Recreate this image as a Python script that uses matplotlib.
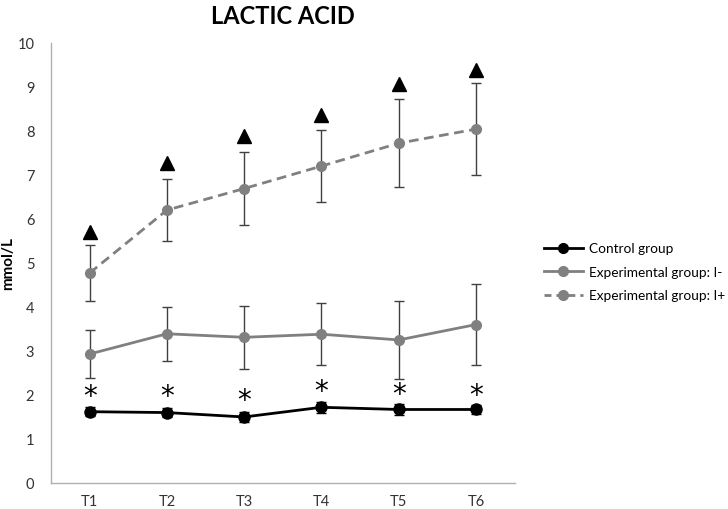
import matplotlib
matplotlib.use("Agg")
import matplotlib.pyplot as plt
from matplotlib.lines import Line2D

plt.rcParams['font.family'] = ['Lato', 'DejaVu Sans']

times = ["T1", "T2", "T3", "T4", "T5", "T6"]
control = [1.62, 1.60, 1.50, 1.72, 1.67, 1.67]
control_err = [0.10, 0.10, 0.12, 0.12, 0.12, 0.10]
exp_neg = [2.93, 3.39, 3.31, 3.38, 3.25, 3.60]
exp_neg_err = [0.54, 0.61, 0.72, 0.71, 0.88, 0.92]
exp_pos = [4.77, 6.20, 6.69, 7.20, 7.72, 8.04]
exp_pos_err = [0.64, 0.71, 0.83, 0.82, 1.00, 1.05]
triangle_y = [5.70, 7.26, 7.88, 8.35, 9.06, 9.38]
star_y = [1.97, 1.97, 1.88, 2.09, 2.03, 2.01]

fig = plt.figure(figsize=(7.28, 5.10), dpi=100)
ax = fig.add_axes([0.070, 0.051, 0.637, 0.863])

x = list(range(len(times)))
gray = "#808080"
errc = "#404040"

ax.errorbar(x, exp_pos, yerr=exp_pos_err, color=gray, ls=(0, (3.5, 2)), lw=2,
            marker='o', ms=7, mfc=gray, mec=gray, ecolor=errc, elinewidth=1,
            capsize=3.5, capthick=1, zorder=3)
ax.errorbar(x, exp_neg, yerr=exp_neg_err, color=gray, ls='-', lw=2,
            marker='o', ms=7, mfc=gray, mec=gray, ecolor=errc, elinewidth=1,
            capsize=3.5, capthick=1, zorder=3)
ax.errorbar(x, control, yerr=control_err, color='black', ls='-', lw=2,
            marker='o', ms=8, mfc='black', mec='black', ecolor='black', elinewidth=1,
            capsize=3.5, capthick=1, zorder=4)

ax.plot(x, triangle_y, ls='none', marker='^', ms=10, color='black', zorder=5)
for xi, yi in zip(x, star_y):
    ax.text(xi, yi, "*", ha='center', va='center', fontsize=20, color='black',
            family='DejaVu Sans')

ax.set_xlim(-0.5, 5.5)
ax.set_ylim(0, 10)
ax.set_yticks(range(0, 11))
ax.set_xticks(x)
ax.set_xticklabels(times)
ax.tick_params(axis='both', length=0, labelsize=10.5, colors='#333333', pad=8)
ax.tick_params(axis='y', pad=12)
for s in ['top', 'right']:
    ax.spines[s].set_visible(False)
for s in ['left', 'bottom']:
    ax.spines[s].set_color('#b0b0b0')
    ax.spines[s].set_linewidth(1)

ax.set_ylabel("mmol/L", fontsize=11, fontweight='bold')
ax.yaxis.set_label_coords(-0.078, 0.5)
fig.text(0.389, 0.968, "LACTIC ACID", ha='center', va='center', fontsize=17,
         fontweight='bold')

handles = [
    Line2D([], [], color='black', lw=2, marker='o', ms=7),
    Line2D([], [], color=gray, lw=2, marker='o', ms=7),
    Line2D([], [], color=gray, lw=2, ls=(0, (2.5, 1.8)), marker='o', ms=7),
]
labels = ["Control group", "Experimental group: I-", "Experimental group: I+"]
fig.legend(handles, labels, loc='center left', bbox_to_anchor=(0.73, 0.465),
           frameon=False, fontsize=9.8, handlelength=2.9, handletextpad=0.4,
           labelspacing=0.85)

fig.savefig("out.png", dpi=100)
